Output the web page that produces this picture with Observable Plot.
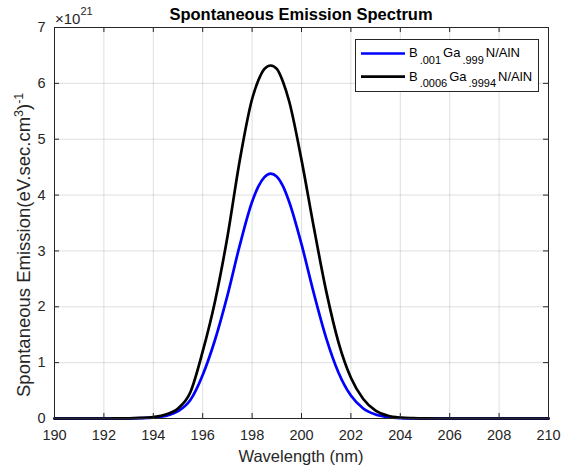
<!DOCTYPE html>
<html>
<head>
<meta charset="utf-8">
<script src="https://cdn.jsdelivr.net/npm/d3@7"></script>
<script src="https://cdn.jsdelivr.net/npm/@observablehq/plot@0.6"></script>
<style>
  body { margin: 0; background: #fff; }
  #chart { width: 564px; height: 472px; }
</style>
</head>
<body>
<div id="chart"></div>
<script>
// ---- data (emission in units of 1e21 (eV.sec.cm^3)^-1) ----
const wavelength = [190, 191, 192, 192.5, 193, 193.5, 194, 194.5, 195, 195.5, 196, 196.5, 197, 197.5, 198, 198.25, 198.5, 198.75, 199, 199.25, 199.5, 200, 200.5, 201, 201.5, 202, 202.5, 203, 203.5, 204, 204.5, 205, 206, 207, 208, 209, 210];
const emissionB001 = [0, 0, 0, 0.0005, 0.002, 0.005, 0.015, 0.045, 0.13, 0.33, 0.78, 1.41, 2.2, 3.1, 3.88, 4.15, 4.32, 4.385, 4.33, 4.16, 3.88, 3.12, 2.24, 1.44, 0.82, 0.41, 0.18, 0.07, 0.024, 0.007, 0.002, 0.0005, 0, 0, 0, 0, 0];
const emissionB0006 = [0, 0, 0, 0.001, 0.003, 0.01, 0.027, 0.07, 0.18, 0.47, 1.2, 2.1, 3.25, 4.62, 5.72, 6.05, 6.26, 6.32, 6.26, 6.03, 5.68, 4.63, 3.42, 2.28, 1.36, 0.73, 0.35, 0.14, 0.05, 0.016, 0.005, 0.001, 0, 0, 0, 0, 0];
const xTicks = [190, 192, 194, 196, 198, 200, 202, 204, 206, 208, 210];
const yTicks = [0, 1, 2, 3, 4, 5, 6, 7];
const seriesColors = ["#0000ff", "#000000"];
const seriesLabels = [
  { parts: ["B", "Ga", "N/AlN"], subs: [".001", ".999"] },
  { parts: ["B", "Ga", "N/AlN"], subs: [".0006", ".9994"] }
];
const titleText = "Spontaneous Emission Spectrum";
const xLabel = "Wavelength (nm)";
const yLabelParts = ["Spontaneous Emission(eV.sec.cm", "3", ")", "-1"];
const exponentText = ["\u00d710", "21"];

// ---- layout ----
const W = 564, H = 472, mL = 54, mR = 16, mT = 27, mB = 54;
const innerW = W - mL - mR, innerH = H - mT - mB, tickLen = 5;
const axisColor = "#262626";
const font = "'Liberation Sans', Arial, Helvetica, sans-serif";

const blueRows = wavelength.map((w, i) => ({ w, v: emissionB001[i] }));
const blackRows = wavelength.map((w, i) => ({ w, v: emissionB0006[i] }));

const chart = Plot.plot({
  width: W, height: H,
  marginLeft: mL, marginRight: mR, marginTop: mT, marginBottom: mB,
  x: { domain: [190, 210] },
  y: { domain: [0, 7] },
  style: { fontFamily: font, fontSize: "14.5px", background: "#fff", color: axisColor, overflow: "visible" },
  marks: [
    Plot.gridX(xTicks, { stroke: axisColor, strokeOpacity: 0.15 }),
    Plot.gridY(yTicks, { stroke: axisColor, strokeOpacity: 0.15 }),
    Plot.line(blueRows, { x: "w", y: "v", stroke: seriesColors[0], strokeWidth: 2.7, curve: "monotone-x" }),
    Plot.line(blackRows, { x: "w", y: "v", stroke: seriesColors[1], strokeWidth: 2.7, curve: "monotone-x" }),
    Plot.tickX(xTicks, { x: d => d, insetTop: innerH - tickLen, stroke: axisColor }),
    Plot.tickX(xTicks, { x: d => d, insetBottom: innerH - tickLen, stroke: axisColor }),
    Plot.tickY(yTicks, { y: d => d, insetRight: innerW - tickLen, stroke: axisColor }),
    Plot.tickY(yTicks, { y: d => d, insetLeft: innerW - tickLen, stroke: axisColor }),
    Plot.frame({ stroke: axisColor }),
    Plot.axisX(xTicks, { tickSize: 0, tickPadding: 11, label: null, fontSize: 14.5, fill: axisColor, tickFormat: d => String(d) }),
    Plot.axisY(yTicks, { tickSize: 0, tickPadding: 9, label: null, fontSize: 14.5, fill: axisColor, tickFormat: d => String(d) })
  ]
});
document.getElementById("chart").appendChild(chart);

const svg = d3.select(chart);

// title
svg.append("text")
  .attr("x", mL + innerW / 2).attr("y", 19.5)
  .attr("text-anchor", "middle")
  .attr("font-family", font).attr("font-weight", "bold").attr("font-size", 16.5)
  .attr("fill", "#000")
  .text(titleText);

// exponent
const ex = svg.append("text")
  .attr("x", 55).attr("y", 24)
  .attr("text-anchor", "start")
  .attr("font-family", font).attr("font-size", 15).attr("fill", axisColor);
ex.append("tspan").text(exponentText[0]);
ex.append("tspan").attr("font-size", 11).attr("dy", -9).text(exponentText[1]);

// x label
svg.append("text")
  .attr("x", mL + innerW / 2).attr("y", 461.5)
  .attr("text-anchor", "middle")
  .attr("font-family", font).attr("font-size", 16.5).attr("fill", axisColor)
  .text(xLabel);

// y label
const yl = svg.append("text")
  .attr("transform", "translate(30,397) rotate(-90)")
  .attr("text-anchor", "start")
  .attr("font-family", font).attr("font-size", 18.5).attr("fill", axisColor);
yl.append("tspan").text(yLabelParts[0]);
yl.append("tspan").attr("font-size", 12.5).attr("dy", -7).text(yLabelParts[1]);
yl.append("tspan").attr("dy", 7).text(yLabelParts[2]);
yl.append("tspan").attr("font-size", 12.5).attr("dy", -7).text(yLabelParts[3]);

// legend
const lg = svg.append("g");
lg.append("rect")
  .attr("x", 355.5).attr("y", 39.5).attr("width", 183).attr("height", 52)
  .attr("fill", "#fff").attr("stroke", axisColor).attr("stroke-width", 1);
seriesLabels.forEach((lab, i) => {
  const y = 53.5 + i * 23.2;
  lg.append("line")
    .attr("x1", 361).attr("x2", 405).attr("y1", y).attr("y2", y)
    .attr("stroke", seriesColors[i]).attr("stroke-width", 2.7);
  const t = lg.append("text")
    .attr("x", 409).attr("y", y + 3.8)
    .attr("text-anchor", "start")
    .attr("font-family", font).attr("font-size", 13).attr("fill", "#000");
  t.append("tspan").text(lab.parts[0]);
  t.append("tspan").attr("font-size", 11).attr("dx", 2).attr("dy", 6.5).text(lab.subs[0]);
  t.append("tspan").attr("dx", 2).attr("dy", -6.5).text(lab.parts[1]);
  t.append("tspan").attr("font-size", 11).attr("dx", 2).attr("dy", 6.5).text(lab.subs[1]);
  t.append("tspan").attr("dx", 2).attr("dy", -6.5).text(lab.parts[2]);
});
</script>
</body>
</html>
